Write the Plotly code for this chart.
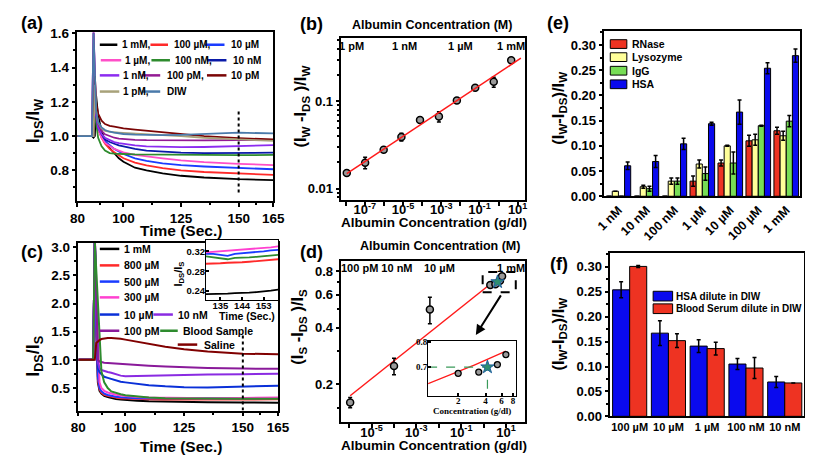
import numpy as np
import plotly.graph_objects as go

W, H = 813, 459
FONT = "Liberation Sans, Arial, sans-serif"
SERIF = "Liberation Serif, Times New Roman, serif"

# ---------------- panel (a) data ----------------
t_a = [80, 86.3, 87.0, 87.6, 88.1, 89.0, 90.5, 92, 94, 96, 98, 100, 105, 110, 117, 125, 135, 150, 165]
a_names = ["1 mM,", "100 µM,", "10 µM", "1 µM,", "100 nM,", "10 nM", "1 nM,", "100 pM,", "10 pM", "1 pM,", "DIW"]
a_1mM = [1.0, 1.0, 0.99, 1.0, 1.24, 1.12, 1.03, 0.97, 0.93, 0.90, 0.87, 0.85, 0.815, 0.80, 0.782, 0.768, 0.758, 0.748, 0.743]
a_100uM = [1.0, 1.0, 1.0, 1.2, 1.1, 1.04, 0.99, 0.955, 0.925, 0.905, 0.885, 0.87, 0.845, 0.828, 0.812, 0.80, 0.79, 0.78, 0.773]
a_10uM = [1.0, 1.0, 1.0, 1.25, 1.12, 1.05, 1.0, 0.97, 0.945, 0.925, 0.91, 0.895, 0.87, 0.855, 0.84, 0.83, 0.822, 0.813, 0.806]
a_1uM = [1.0, 1.0, 1.0, 1.22, 1.1, 1.04, 0.99, 0.96, 0.94, 0.925, 0.915, 0.905, 0.89, 0.88, 0.87, 0.858, 0.848, 0.838, 0.83]
a_100nM = [1.0, 1.0, 1.0, 1.3, 1.08, 0.99, 0.94, 0.915, 0.90, 0.897, 0.895, 0.895, 0.893, 0.892, 0.89, 0.89, 0.89, 0.888, 0.89]
a_10nM = [1.0, 1.0, 1.0, 1.3, 1.12, 1.05, 1.01, 0.98, 0.965, 0.955, 0.945, 0.94, 0.925, 0.915, 0.908, 0.903, 0.90, 0.90, 0.903]
a_1nM = [1.0, 1.0, 1.62, 1.3, 1.12, 1.05, 1.01, 0.99, 0.975, 0.965, 0.958, 0.953, 0.945, 0.94, 0.937, 0.935, 0.936, 0.94, 0.947]
a_100pM = [1.0, 1.0, 1.62, 1.35, 1.15, 1.07, 1.03, 1.01, 1.0, 0.99, 0.985, 0.982, 0.978, 0.976, 0.975, 0.975, 0.975, 0.976, 0.977]
a_10pM = [1.0, 1.0, 1.0, 1.35, 1.2, 1.13, 1.09, 1.07, 1.06, 1.055, 1.05, 1.045, 1.038, 1.032, 1.025, 1.015, 1.0, 0.988, 0.98]
a_1pM = [1.0, 1.0, 1.0, 1.3, 1.15, 1.08, 1.045, 1.03, 1.025, 1.022, 1.02, 1.018, 1.013, 1.01, 1.005, 1.0, 0.99, 0.98, 0.972]
a_DIW = [1.0, 1.0, 1.6, 1.3, 1.15, 1.08, 1.05, 1.035, 1.025, 1.02, 1.015, 1.012, 1.008, 1.005, 1.005, 1.007, 1.012, 1.02, 1.015]
a_colors = ["#000000", "#ff2a2a", "#1a3cff", "#ff4fc8", "#2e8b2e", "#0a1aa8",
            "#8c2cf0", "#931a93", "#7a0505", "#a8a27a", "#4a7aaa"]

# ---------------- panel (c) data ----------------
t_c = [80, 86.3, 87.0, 87.6, 88.3, 89.0, 89.8, 91, 92.5, 94, 96, 98, 100, 105, 110, 117, 125, 135, 150, 165]
c_names = ["1 mM", "800 µM", "500 µM", "300 µM", "10 µM", "10 nM", "100 pM", "Blood Sample", "Saline"]
c_1mM = [1.0, 1.0, 3.2, 1.5, 0.6, 0.45, 0.4, 0.36, 0.34, 0.32, 0.305, 0.295, 0.287, 0.275, 0.265, 0.258, 0.252, 0.248, 0.243, 0.24]
c_800uM = [1.0, 1.0, 3.2, 1.6, 0.65, 0.48, 0.42, 0.38, 0.36, 0.345, 0.33, 0.32, 0.315, 0.307, 0.302, 0.298, 0.296, 0.295, 0.297, 0.30]
c_500uM = [1.0, 1.0, 3.2, 1.6, 0.7, 0.5, 0.44, 0.40, 0.375, 0.36, 0.345, 0.335, 0.328, 0.32, 0.316, 0.314, 0.313, 0.314, 0.318, 0.322]
c_300uM = [1.0, 1.0, 3.2, 2.5, 1.6, 0.6, 0.5, 0.45, 0.42, 0.40, 0.38, 0.365, 0.355, 0.34, 0.332, 0.326, 0.322, 0.32, 0.324, 0.33]
c_10uM = [1.0, 1.0, 3.2, 1.8, 0.85, 0.78, 0.74, 0.70, 0.68, 0.66, 0.63, 0.61, 0.60, 0.57, 0.55, 0.53, 0.515, 0.51, 0.52, 0.54]
c_10nM = [1.0, 1.0, 3.2, 1.8, 0.95, 0.85, 0.82, 0.80, 0.785, 0.77, 0.74, 0.72, 0.71, 0.715, 0.72, 0.73, 0.735, 0.74, 0.745, 0.755]
c_100pM = [1.0, 1.0, 3.2, 1.9, 1.0, 0.97, 0.96, 0.95, 0.945, 0.94, 0.935, 0.925, 0.92, 0.905, 0.895, 0.88, 0.865, 0.855, 0.845, 0.84]
c_blood = [1.0, 1.0, 3.1, 2.6, 2.0, 1.3, 0.8, 0.6, 0.5, 0.44, 0.41, 0.39, 0.37, 0.345, 0.33, 0.32, 0.315, 0.31, 0.31, 0.31]
c_saline = [1.0, 1.0, 1.0, 1.3, 1.33, 1.35, 1.37, 1.385, 1.39, 1.39, 1.385, 1.375, 1.36, 1.32, 1.28, 1.235, 1.19, 1.15, 1.11, 1.10]
c_colors = ["#000000", "#ff2a2a", "#1a3cff", "#ff40d0", "#0a30d8", "#8a2be2", "#8a1a9a", "#2e8b2e", "#800000"]

# inset of (c)
t_ci = [129, 132, 135, 138, 141, 144, 147, 150, 153, 156, 159]
ci_1mM = [0.234, 0.234, 0.234, 0.235, 0.236, 0.236, 0.237, 0.238, 0.239, 0.241, 0.243]
ci_800uM = [0.295, 0.295, 0.296, 0.297, 0.297, 0.298, 0.299, 0.300, 0.301, 0.302, 0.304]
ci_blood = [0.310, 0.308, 0.305, 0.304, 0.307, 0.307, 0.308, 0.309, 0.310, 0.312, 0.313]
ci_500uM = [0.315, 0.315, 0.313, 0.311, 0.315, 0.316, 0.318, 0.319, 0.320, 0.322, 0.323]
ci_300uM = [0.318, 0.319, 0.320, 0.321, 0.322, 0.323, 0.324, 0.326, 0.327, 0.328, 0.330]

# marker time (dotted line)
mark_t = 150

# ---------------- panel (b) data ----------------
b_x = [1.15e-8, 1.05e-7, 9.8e-7, 8.3e-6, 7.8e-5, 7.6e-4, 6.6e-3, 6.0e-2, 0.56, 4.6]
b_y = [0.0151, 0.0198, 0.0278, 0.039, 0.061, 0.067, 0.102, 0.143, 0.167, 0.295]
b_err = [0.0008, 0.003, 0.0015, 0.004, 0.005, 0.009, 0.007, 0.005, 0.022, 0.008]
b_top_labels = ["1 pM", "1 nM", "1 µM", "1 mM"]

# ---------------- panel (d) data ----------------
d_x = [1.1e-6, 1.0e-4, 4.0e-3, 2.0, 3.37, 5.4, 6.7]
d_y = [0.16, 0.25, 0.50, 0.675, 0.68, 0.71, 0.75]
d_err = [0.01, 0.025, 0.08, 0.01, 0.008, 0.01, 0.012]
d_star_x = [4.2]
d_star_y = [0.70]
d_top_labels = ["100 pM 10 nM", "10 µM", "1 mM"]

# ---------------- panel (e) data ----------------
e_cats = ["1 nM", "10 nM", "100 nM", "1 µM", "10 µM", "100 µM", "1 mM"]
e_names = ["RNase", "Lysozyme", "IgG", "HSA"]
e_rnase = [0, 0, 0, 0.030, 0.066, 0.110, 0.130]
e_rnase_err = [0, 0, 0, 0.010, 0.006, 0.011, 0.007]
e_lys = [0.010, 0.019, 0.030, 0.064, 0.100, 0.112, 0.120]
e_lys_err = [0, 0.003, 0.006, 0.008, 0.001, 0.011, 0.009]
e_igg = [0, 0.015, 0.030, 0.045, 0.066, 0.140, 0.149]
e_igg_err = [0, 0.005, 0.006, 0.013, 0.022, 0.001, 0.011]
e_hsa = [0.0605, 0.069, 0.104, 0.144, 0.167, 0.254, 0.279]
e_hsa_err = [0.0075, 0.012, 0.011, 0.003, 0.024, 0.011, 0.013]
e_colors = ["#ee3322", "#ffff99", "#77dd55", "#0a0aee"]

# ---------------- panel (f) data ----------------
f_cats = ["100 µM", "10 µM", "1 µM", "100 nM", "10 nM"]
f_names = ["HSA dilute in DIW", "Blood Serum dilute in DIW"]
f_hsa = [0.254, 0.167, 0.141, 0.105, 0.069]
f_hsa_err = [0.016, 0.025, 0.013, 0.011, 0.011]
f_serum = [0.301, 0.152, 0.136, 0.097, 0.067]
f_serum_err = [0.002, 0.014, 0.013, 0.021, 0.0]
f_colors = ["#0a0aee", "#ee3322"]


# ---------------- helpers ----------------
def px(x):
    return x / W


def py(y):
    return 1 - y / H


def dx(a, b):
    return [a / W, b / W]


def dy(top, bottom):
    return [1 - bottom / H, 1 - top / H]


def tf(size, family=FONT):
    return dict(family=family, size=size, color="black", weight="bold")


base_ax = dict(showline=True, linecolor="black", linewidth=1.5, mirror=True,
               ticks="outside", ticklen=4, tickwidth=1.5, tickcolor="black",
               showgrid=False, zeroline=False, fixedrange=True)

fig = go.Figure()
annotations = []
shapes = []


def ann(text, x, y, size, xanchor="center", yanchor="middle", angle=0, family=FONT):
    annotations.append(dict(text=text, x=px(x), y=py(y), xref="paper", yref="paper",
                            showarrow=False, xanchor=xanchor, yanchor=yanchor,
                            textangle=angle,
                            font=dict(family=family, size=size, color="black", weight="bold")))


def leg_line(x0, x1, y, color, width=2.5):
    shapes.append(dict(type="line", xref="paper", yref="paper",
                       x0=px(x0), x1=px(x1), y0=py(y), y1=py(y),
                       line=dict(color=color, width=width), layer="above"))


def leg_box(x0, x1, yc, h, color):
    shapes.append(dict(type="rect", xref="paper", yref="paper",
                       x0=px(x0), x1=px(x1), y0=py(yc + h / 2), y1=py(yc - h / 2),
                       fillcolor=color, line=dict(color="black", width=1), layer="above"))


# ---------------- (a) ----------------
a_series = [a_1mM, a_100uM, a_10uM, a_1uM, a_100nM, a_10nM, a_1nM, a_100pM, a_10pM, a_1pM, a_DIW]
for name, ys, col in zip(a_names, a_series, a_colors):
    fig.add_trace(go.Scatter(x=t_a, y=ys, mode="lines", name=name, showlegend=False,
                             line=dict(color=col, width=1.8), xaxis="x", yaxis="y"))
shapes.append(dict(type="line", xref="x", yref="y", x0=mark_t, x1=mark_t, y0=0.67, y1=1.16,
                   line=dict(color="black", width=2, dash="dot")))

# ---------------- (b) ----------------
fig.add_trace(go.Scatter(x=b_x, y=b_y, mode="markers", showlegend=False,
                         error_y=dict(type="data", array=b_err, color="black", thickness=1.5, width=2),
                         marker=dict(symbol="circle", size=7, color="#9a9a9a", line=dict(color="black", width=1.5)),
                         xaxis="x2", yaxis="y2"))
cb = np.polyfit(np.log10(b_x), np.log10(b_y), 1)
xb = np.logspace(np.log10(min(b_x)), np.log10(max(b_x) * 3.2), 40)
fig.add_trace(go.Scatter(x=xb, y=10 ** np.polyval(cb, np.log10(xb)), mode="lines", showlegend=False,
                         line=dict(color="#ff1a1a", width=1.5), xaxis="x2", yaxis="y2"))

# ---------------- (c) ----------------
c_series = [c_1mM, c_800uM, c_500uM, c_300uM, c_10uM, c_10nM, c_100pM, c_blood, c_saline]
for name, ys, col in zip(c_names, c_series, c_colors):
    fig.add_trace(go.Scatter(x=t_c, y=ys, mode="lines", name=name, showlegend=False,
                             line=dict(color=col, width=2), xaxis="x3", yaxis="y3"))
shapes.append(dict(type="line", xref="x3", yref="y3", x0=mark_t, x1=mark_t, y0=0.1, y1=1.45,
                   line=dict(color="black", width=2, dash="dot")))

# ---------------- (d) ----------------
cd = np.polyfit(np.log10(d_x), np.log10(d_y), 1)
xd = np.logspace(np.log10(min(d_x)), np.log10(max(d_x) * 1.1), 40)
fig.add_trace(go.Scatter(x=xd, y=10 ** np.polyval(cd, np.log10(xd)), mode="lines", showlegend=False,
                         line=dict(color="#ff1a1a", width=1.5), xaxis="x4", yaxis="y4"))
fig.add_trace(go.Scatter(x=d_x, y=d_y, mode="markers", showlegend=False,
                         error_y=dict(type="data", array=d_err, color="black", thickness=1.5, width=2),
                         marker=dict(symbol="circle", size=7, color="#9a9a9a", line=dict(color="black", width=1.5)),
                         xaxis="x4", yaxis="y4"))
fig.add_trace(go.Scatter(x=d_star_x, y=d_star_y, mode="markers", showlegend=False,
                         marker=dict(symbol="star", size=10, color="#2f8f6f", line=dict(color="#1f5f9f", width=1)),
                         xaxis="x4", yaxis="y4"))

# ---------------- (e) ----------------
for name, vals, errs, col in zip(e_names, [e_rnase, e_lys, e_igg, e_hsa],
                                 [e_rnase_err, e_lys_err, e_igg_err, e_hsa_err], e_colors):
    fig.add_trace(go.Bar(x=e_cats, y=vals, name=name, showlegend=False,
                         marker=dict(color=col, line=dict(color="black", width=1)),
                         error_y=dict(type="data", array=errs, color="black", thickness=1.5, width=2),
                         xaxis="x5", yaxis="y5"))

# ---------------- (f) ----------------
for name, vals, errs, col in zip(f_names, [f_hsa, f_serum], [f_hsa_err, f_serum_err], f_colors):
    fig.add_trace(go.Bar(x=f_cats, y=vals, name=name, showlegend=False,
                         marker=dict(color=col, line=dict(color="black", width=1)),
                         error_y=dict(type="data", array=errs, color="black", thickness=1.5, width=2),
                         xaxis="x6", yaxis="y6"))

# ---------------- inset (c) ----------------
for ys, col in zip([ci_1mM, ci_800uM, ci_blood, ci_500uM, ci_300uM],
                   ["#000000", "#ff2a2a", "#2e8b2e", "#1a3cff", "#ff40d0"]):
    fig.add_trace(go.Scatter(x=t_ci, y=ys, mode="lines", showlegend=False,
                             line=dict(color=col, width=1.8), xaxis="x7", yaxis="y7"))

# ---------------- inset (d) ----------------
DI_XR = [-0.03, 0.935]
DI_YR = [0.585, 0.805]
xdi = np.logspace(DI_XR[0], np.log10(max(d_x)), 30)
fig.add_trace(go.Scatter(x=xdi, y=10 ** np.polyval(cd, np.log10(xdi)), mode="lines", showlegend=False,
                         line=dict(color="#ff1a1a", width=1.3), xaxis="x8", yaxis="y8"))
fig.add_trace(go.Scatter(x=[10 ** DI_XR[0], d_star_x[0], d_star_x[0]],
                         y=[d_star_y[0], d_star_y[0], DI_YR[0]], mode="lines", showlegend=False,
                         line=dict(color="#3a9a5a", width=1.2, dash="dash"), xaxis="x8", yaxis="y8"))
fig.add_trace(go.Scatter(x=d_x[3:], y=d_y[3:], mode="markers", showlegend=False,
                         marker=dict(symbol="circle", size=6, color="#9a9a9a", line=dict(color="black", width=1.3)),
                         xaxis="x8", yaxis="y8"))
fig.add_trace(go.Scatter(x=d_star_x, y=d_star_y, mode="markers", showlegend=False,
                         marker=dict(symbol="star", size=10, color="#2f8f6f", line=dict(color="#1f5f9f", width=1)),
                         xaxis="x8", yaxis="y8"))

# ---------------- axes ----------------
lay = {}
lay["xaxis"] = dict(base_ax, domain=dx(62, 263), range=[80, 165], anchor="y",
                    tickvals=[80, 100, 125, 150, 165], tickfont=tf(13.5),
                    minor=dict(tickvals=[90, 112.5, 137.5, 157.5], ticks="outside", ticklen=2.5, tickcolor="black"))
lay["yaxis"] = dict(base_ax, domain=dy(19, 193), range=[0.62, 1.605], anchor="x",
                    tickvals=[0.8, 1.0, 1.2, 1.4, 1.6], tickformat=".1f", tickfont=tf(13.5),
                    minor=dict(tickvals=[0.7, 0.9, 1.1, 1.3, 1.5], ticks="outside", ticklen=2.5, tickcolor="black"))

dec_b = [10.0 ** k for k in range(-8, 2)]
lay["xaxis2"] = dict(base_ax, domain=dx(333, 521), type="log", range=[-8.22, 1.36], anchor="y2",
                     tickvals=dec_b, ticklabelstandoff=-7,
                     ticktext=["" if k % 2 == 0 else "10<sup>%d</sup>" % k for k in range(-8, 2)],
                     tickfont=tf(13))
lay["yaxis2"] = dict(base_ax, domain=dy(25, 192), type="log", range=[-2.133, -0.278], anchor="x2",
                     tickvals=[0.01, 0.1], ticktext=["0.01", "0.1"], tickfont=tf(13),
                     minor=dict(tickvals=[m * 10.0 ** e for e in (-3, -2, -1) for m in range(2, 10)],
                                ticks="outside", ticklen=2.5, tickcolor="black"))

lay["xaxis3"] = dict(base_ax, domain=dx(63, 268), range=[80, 165], anchor="y3",
                     tickvals=[80, 100, 125, 150, 165], tickfont=tf(13.5),
                     minor=dict(tickvals=[90, 112.5, 137.5, 157.5], ticks="outside", ticklen=2.5, tickcolor="black"))
lay["yaxis3"] = dict(base_ax, domain=dy(236, 409), range=[0.1, 3.08], anchor="x3",
                     tickvals=[0.5, 1.0, 1.5, 2.0, 2.5, 3.0], tickformat=".1f", tickfont=tf(13.5),
                     minor=dict(tickvals=[0.25, 0.75, 1.25, 1.75, 2.25, 2.75], ticks="outside", ticklen=2.5,
                                tickcolor="black"))

dec_d = [10.0 ** k for k in range(-6, 2)]
lay["xaxis4"] = dict(base_ax, domain=dx(333, 521), type="log", range=[-6.35, 1.83], anchor="y4",
                     tickvals=dec_d, ticklabelstandoff=-7,
                     ticktext=["" if k % 2 == 0 else "10<sup>%d</sup>" % k for k in range(-6, 2)],
                     tickfont=tf(13))
lay["yaxis4"] = dict(base_ax, domain=dy(255, 421), type="log", range=[-0.90, -0.045], anchor="x4",
                     tickvals=[0.2, 0.4, 0.6, 0.8], ticktext=["0.2", "0.4", "0.6", "0.8"], tickfont=tf(13),
                     minor=dict(tickvals=[0.15, 0.3, 0.5, 0.7], ticks="outside", ticklen=2.5, tickcolor="black"))

lay["xaxis5"] = dict(base_ax, domain=dx(603, 804), anchor="y5", ticks="", tickangle=-45, tickfont=tf(12.5))
lay["yaxis5"] = dict(base_ax, domain=dy(18, 188), range=[0, 0.327], anchor="x5",
                     dtick=0.05, tickformat=".2f", tickfont=tf(13),
                     minor=dict(dtick=0.025, ticks="outside", ticklen=2.5, tickcolor="black"))

lay["xaxis6"] = dict(base_ax, domain=dx(609, 808), anchor="y6", ticks="", tickfont=tf(11))
lay["yaxis6"] = dict(base_ax, domain=dy(247, 415), range=[0, 0.327], anchor="x6",
                     dtick=0.05, tickformat=".2f", tickfont=tf(13),
                     minor=dict(dtick=0.025, ticks="outside", ticklen=2.5, tickcolor="black"))

lay["xaxis7"] = dict(base_ax, linewidth=1.2, domain=dx(194, 268), range=[129, 159], anchor="y7",
                     tickvals=[135, 144, 153], tickfont=tf(9.5), ticks="inside", ticklen=2.5,
                     ticklabelstandoff=-4)
lay["yaxis7"] = dict(base_ax, linewidth=1.2, domain=dy(233, 295), range=[0.222, 0.343], anchor="x7",
                     tickvals=[0.24, 0.28, 0.32], tickformat=".2f", tickfont=tf(9.5), ticks="inside", ticklen=2.5,
                     ticklabelstandoff=-2)

lay["xaxis8"] = dict(base_ax, linewidth=1, domain=dx(422, 512), type="log", range=DI_XR, anchor="y8",
                     tickvals=[2, 4, 6, 8], ticktext=["2", "4", "6", "8"], ticks="inside", ticklen=2.5,
                     ticklabelstandoff=-4, tickfont=tf(9, SERIF))
lay["yaxis8"] = dict(base_ax, linewidth=1, domain=dy(337, 394), range=DI_YR, anchor="x8",
                     tickvals=[0.7, 0.8], ticktext=["0.7", "0.8"], ticks="inside", ticklen=2.5,
                     ticklabelstandoff=-2, tickfont=tf(9, SERIF))

# ---------------- text: panel letters & titles ----------------
ann("(a)", 2, 9, 18, xanchor="left")
ann("(b)", 288, 10, 18, xanchor="left")
ann("(e)", 542, 9, 18, xanchor="left")
ann("(c)", 2, 245, 18, xanchor="left")
ann("(d)", 288, 246, 18, xanchor="left")
ann("(f)", 545, 258, 18, xanchor="left")

ann("I<sub>DS</sub>/I<sub>W</sub>", 18, 110, 18, angle=-90)
ann("Time (Sec.)", 168, 223, 15.5)
ann("I<sub>DS</sub>/I<sub>S</sub>", 18, 353, 18, angle=-90)
ann("Time (Sec.)", 168, 446, 15.5)

ann("(I<sub>W</sub> -I<sub>DS</sub> )/I<sub>W</sub>", 292, 95, 16.5, angle=-90)
ann("Albumin Concentration (g/dl)", 428, 215, 13.5)
ann("Albumin Concentration (M)", 426, 11, 12.5)
for lab, xc in zip(b_top_labels, [343, 398, 455, 507]):
    ann(lab, xc, 33, 11)

ann("(I<sub>S</sub> -I<sub>DS</sub> )/I<sub>S</sub>", 289, 323, 16.5, angle=-90)
ann("Albumin Concentration (g/dl)", 428, 445, 13.5)
ann("Albumin Concentration (M)", 434, 239, 12.5)
ann(d_top_labels[0], 331, 262, 11, xanchor="left")
ann(d_top_labels[1], 434, 262, 11)
ann(d_top_labels[2], 507, 262, 11)
ann("Concentration (g/dl)", 467, 410, 9, family=SERIF)

ann("(I<sub>W</sub>-I<sub>DS</sub>)/I<sub>W</sub>", 556, 97, 16.5, angle=-90)
ann("(I<sub>W</sub>-I<sub>DS</sub>)/I<sub>W</sub>", 556, 330, 16.5, angle=-90)

# inset (c) titles
ann("Time (Sec.)", 236, 312, 10.5)
ann("I<sub>DS</sub>/I<sub>S</sub>", 166, 268, 11, angle=-90)

# ---------------- manual legends ----------------
# (a)
a_leg = [(85, 103, 106, 31.7), (137, 155, 159, 31.7), (193, 213, 218, 31.7),
         (86, 107, 109, 47.7), (138, 157, 160, 47.7), (195, 215, 220, 47.7),
         (85, 105, 107, 63.3), (128, 147, 152, 63.3), (195, 215, 218, 63.3),
         (85, 105, 107, 80), (128, 147, 152, 80)]
for (x0, x1, xt, yy), name, col in zip(a_leg, a_names, a_colors):
    leg_line(x0, x1, yy, col)
    ann(name, xt, yy, 10, xanchor="left")

# (c)
c_leg = [(85, 105, 108, 242.3), (85, 105, 108, 259.3), (85, 105, 108, 276), (85, 105, 108, 292.3),
         (85, 105, 108, 310), (140, 160, 163, 310), (85, 105, 108, 326.7), (147, 165, 168, 326.7),
         (165, 185, 190, 341)]
for (x0, x1, xt, yy), name, col in zip(c_leg, c_names, c_colors):
    leg_line(x0, x1, yy, col)
    ann(name, xt, yy, 10.5, xanchor="left")

# (e)
for name, col, yy in zip(e_names, e_colors, [31, 44.5, 58.5, 72.5]):
    leg_box(609, 626, yy, 9, col)
    ann(name, 629, yy, 10.5, xanchor="left")

# (f)
for name, col, yy in zip(f_names, f_colors, [291, 304]):
    leg_box(653, 673, yy, 10, col)
    ann(name, 674, yy, 10, xanchor="left")

# (d) dashed zoom box and arrow
shapes.append(dict(type="rect", xref="paper", yref="paper", x0=px(478), x1=px(512), y0=py(287), y1=py(266),
                   line=dict(color="black", width=2, dash="dash"), layer="above"))
annotations.append(dict(x=px(471), y=py(331), xref="paper", yref="paper", ax=26, ay=-41,
                        showarrow=True, arrowhead=2, arrowsize=1, arrowwidth=2, arrowcolor="black", text=""))

fig.update_layout(
    width=W, height=H, autosize=False,
    margin=dict(l=0, r=0, t=0, b=0),
    paper_bgcolor="white", plot_bgcolor="white",
    font=dict(family=FONT, color="black"),
    barmode="group", bargap=0.12, bargroupgap=0.0,
    showlegend=False,
    annotations=annotations, shapes=shapes,
    **lay
)

fig.write_html("out.html")
